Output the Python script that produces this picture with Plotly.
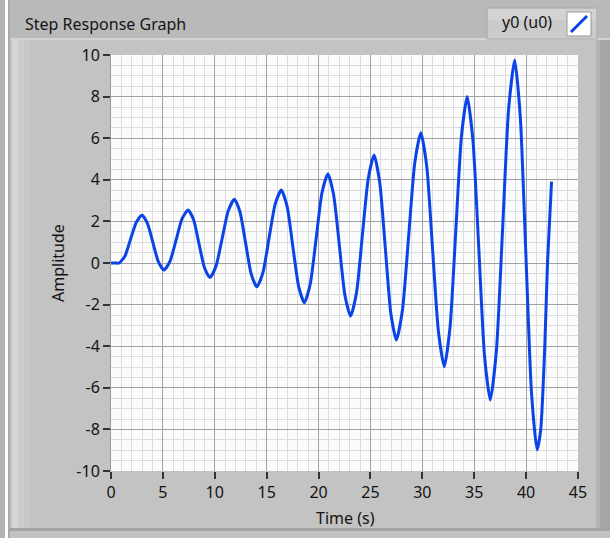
import plotly.graph_objects as go

# ---- data ----
time_s = [0.0, 0.4, 0.8, 1.35, 1.89, 2.44, 2.98,
          3.51, 4.04, 4.57, 5.10,
          5.68, 6.27, 6.85, 7.43,
          7.96, 8.48, 9.01, 9.53,
          10.12, 10.71, 11.30, 11.89,
          12.43, 12.97, 13.51, 14.05,
          14.64, 15.23, 15.82, 16.41,
          16.97, 17.52, 18.08, 18.63,
          19.20, 19.77, 20.33, 20.90,
          21.45, 22.00, 22.54, 23.09,
          23.66, 24.22, 24.79, 25.35,
          25.89, 26.43, 26.96, 27.50,
          28.09, 28.68, 29.27, 29.86,
          30.43, 30.99, 31.56, 32.12,
          32.67, 33.22, 33.77, 34.32,
          34.88, 35.44, 35.99, 36.55,
          37.14, 37.73, 38.31, 38.90,
          39.44, 39.98, 40.52, 41.06,
          41.41, 41.80, 42.06, 42.45]
amplitude = [0.0, 0.0, 0.0, 0.34, 1.15, 1.96, 2.30,
             1.91, 0.98, 0.05, -0.34,
             0.08, 1.10, 2.13, 2.55,
             2.08, 0.93, -0.23, -0.70,
             -0.15, 1.18, 2.51, 3.06,
             2.45, 0.96, -0.53, -1.14,
             -0.46, 1.19, 2.83, 3.51,
             2.72, 0.80, -1.12, -1.91,
             -1.01, 1.19, 3.38, 4.28,
             3.28, 0.87, -1.55, -2.55,
             -1.42, 1.32, 4.06, 5.19,
             3.89, 0.75, -2.40, -3.70,
             -2.25, 1.28, 4.81, 6.26,
             4.62, 0.64, -3.34, -4.98,
             -3.08, 1.51, 6.10, 8.00,
             5.87, 0.71, -4.46, -6.59,
             -4.20, 1.59, 7.37, 9.76,
             7.02, 0.39, -6.25, -8.99,
             -8.00, -4.00, 0.00, 3.91]
x_ticks = [0, 5, 10, 15, 20, 25, 30, 35, 40, 45]
y_ticks = [-10, -8, -6, -4, -2, 0, 2, 4, 6, 8, 10]

title_text = "Step Response Graph"
legend_text = "y0 (u0)"
x_title = "Time (s)"
y_title = "Amplitude"

# ---- geometry (pixels) ----
FW, FH = 610, 538
L, R, T, B = 111, 578, 55, 471
PW, PH = R - L, B - T


def px(x):
    return (x - L) / PW


def py(y):
    return (B - y) / PH


FONT = "Noto Sans"
FS = 16
TXT = "#141414"

fig = go.Figure()
fig.add_trace(go.Scatter(
    x=time_s, y=amplitude, mode="lines",
    line=dict(color="#0a44e6", width=3, shape="spline", smoothing=0.6),
    name=legend_text, showlegend=False, hoverinfo="x+y"))

shapes = []


def rect(x0, y0, x1, y1, fill, line=None, layer="below"):
    shapes.append(dict(type="rect", xref="paper", yref="paper",
                       x0=px(x0), x1=px(x1), y0=py(y1), y1=py(y0),
                       fillcolor=fill,
                       line=dict(width=0 if line is None else 1,
                                 color=line or "rgba(0,0,0,0)"),
                       layer=layer))


# outer frame pieces
rect(0, 0, 5, FH, "#b3b3b3")
rect(5, 0, 8, FH, "#ffffff")
rect(8, 0, 10, FH, "#a9a9a9")
rect(10, 0, FW, 38, "#b9b9b9")
rect(10, 38, FW, 40, "#d4d4d4")
rect(12, 40, 18, 528, "#d6d6d6")
rect(18, 40, 24, 528, "#cdcdcd")
rect(24, 40, 30, 528, "#c8c8c8")
rect(10, 528, FW, 531, "#a4a4a4")
rect(10, 531, FW, FH, "#c2c2c2")
rect(596, 40, 600, 528, "#b4b4b4")
rect(600, 40, FW, 528, "#a6a6a6")
# legend box
rect(487, 8, 597, 39, "#cbcbcb", line="#a9a9a9")
rect(488, 9, 596, 20, "#d3d3d3")
rect(567, 12, 591, 36, "#ffffff", line="#9a9a9a")
shapes.append(dict(type="line", xref="paper", yref="paper",
                   x0=px(571), y0=py(32), x1=px(587), y1=py(16),
                   line=dict(color="#0a44e6", width=3), layer="above"))

annotations = [
    dict(text=title_text, x=px(23), y=py(24), xref="paper", yref="paper",
         xanchor="left", yanchor="middle", showarrow=False,
         font=dict(family=FONT, size=FS, color=TXT)),
    dict(text=legend_text, x=px(527), y=py(22), xref="paper", yref="paper",
         xanchor="center", yanchor="middle", showarrow=False,
         font=dict(family=FONT, size=FS, color=TXT)),
    dict(text=x_title, x=px(345), y=py(518), xref="paper", yref="paper",
         xanchor="center", yanchor="middle", showarrow=False,
         font=dict(family=FONT, size=FS, color=TXT)),
    dict(text=y_title, x=px(58), y=py(263), xref="paper", yref="paper",
         xanchor="center", yanchor="middle", showarrow=False, textangle=-90,
         font=dict(family=FONT, size=FS, color=TXT)),
]

fig.update_layout(
    width=FW, height=FH,
    margin=dict(l=L, r=FW - R, t=T, b=FH - B, pad=0),
    paper_bgcolor="#c3c3c3", plot_bgcolor="#fcfcfc",
    shapes=shapes, annotations=annotations, showlegend=False,
    font=dict(family=FONT, size=FS, color=TXT),
)
fig.update_xaxes(
    range=[0, 45], tickvals=x_ticks, ticktext=[str(v) for v in x_ticks],
    ticks="outside", ticklen=7, tickwidth=2, tickcolor="#333333",
    showgrid=True, gridcolor="#a2a2a2", gridwidth=1,
    minor=dict(dtick=1, showgrid=True, gridcolor="#dcdcdc", gridwidth=1, ticks=""),
    showline=False, zeroline=False, tickfont=dict(family=FONT, size=FS, color=TXT),
    fixedrange=True,
)
fig.update_yaxes(
    range=[-10, 10], tickvals=y_ticks, ticktext=[str(v) for v in y_ticks],
    ticks="outside", ticklen=7, tickwidth=2, tickcolor="#333333",
    showgrid=True, gridcolor="#a2a2a2", gridwidth=1,
    minor=dict(dtick=0.5, showgrid=True, gridcolor="#dcdcdc", gridwidth=1, ticks=""),
    showline=True, linecolor="#9a9a9a", linewidth=1, mirror=False,
    zeroline=False, tickfont=dict(family=FONT, size=FS, color=TXT),
    fixedrange=True,
)

fig.write_html(
    "out.html",
    config={"displayModeBar": False},
    post_script="document.body.style.margin='0';document.body.style.padding='0';"
                "document.documentElement.style.margin='0';",
)
